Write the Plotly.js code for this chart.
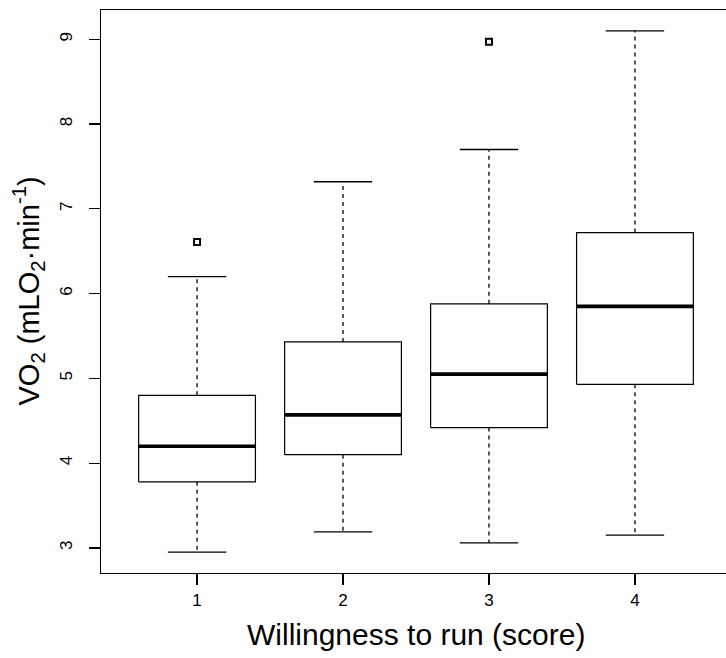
<!DOCTYPE html>
<html>
<head>
<meta charset="utf-8">
<script src="https://cdn.plot.ly/plotly-3.0.1.min.js"></script>
<style>
html,body{margin:0;padding:0;overflow:hidden;background:#fff;width:726px;height:658px;}
#chart{width:760px;height:658px;}
</style>
</head>
<body>
<div id="chart"></div>
<script>
// Data
var groups = [1, 2, 3, 4];
var groupLabels = ["1", "2", "3", "4"];
var lowerWhisker = [2.95, 3.19, 3.06, 3.15];
var q1Values = [3.78, 4.10, 4.42, 4.93];
var medianValues = [4.20, 4.57, 5.05, 5.85];
var q3Values = [4.80, 5.43, 5.88, 6.72];
var upperWhisker = [6.20, 7.32, 7.70, 9.10];
var outlierGroups = [1, 3];
var outlierValues = [6.61, 8.97];
var yTicks = [3, 4, 5, 6, 7, 8, 9];

var boxHalf = 0.4, capHalf = 0.2;
var FONT = "Liberation Sans, Arial, Helvetica, sans-serif";

var traces = [];
var bx = [], by = [];
var mx = [], my = [];
var wx = [], wy = [];
var cx = [], cy = [];
for (var i = 0; i < groups.length; i++) {
  var g = groups[i];
  bx.push(g - boxHalf, g + boxHalf, g + boxHalf, g - boxHalf, g - boxHalf, null);
  by.push(q1Values[i], q1Values[i], q3Values[i], q3Values[i], q1Values[i], null);
  mx.push(g - boxHalf, g + boxHalf, null);
  my.push(medianValues[i], medianValues[i], null);
  wx.push(g, g, null, g, g, null);
  wy.push(q3Values[i], upperWhisker[i], null, q1Values[i], lowerWhisker[i], null);
  cx.push(g - capHalf, g + capHalf, null, g - capHalf, g + capHalf, null);
  cy.push(upperWhisker[i], upperWhisker[i], null, lowerWhisker[i], lowerWhisker[i], null);
}
traces.push({x: wx, y: wy, mode: "lines", line: {color: "#000", width: 1.3, dash: "4px,4px"}, hoverinfo: "skip"});
traces.push({x: cx, y: cy, mode: "lines", line: {color: "#000", width: 1.3}, hoverinfo: "skip"});
traces.push({x: bx, y: by, mode: "lines", line: {color: "#000", width: 1.2}, hoverinfo: "skip"});
traces.push({x: mx, y: my, mode: "lines", line: {color: "#000", width: 3.6}, hoverinfo: "skip"});
traces.push({x: outlierGroups, y: outlierValues, mode: "markers",
  marker: {symbol: "square-open", size: 6, color: "#000", line: {color: "#000", width: 2}}, hoverinfo: "skip"});

var layout = {
  width: 760, height: 658,
  margin: {l: 101, r: 29, t: 10, b: 85},
  paper_bgcolor: "#fff", plot_bgcolor: "#fff",
  showlegend: false,
  font: {family: FONT, color: "#000"},
  xaxis: {
    range: [0.342, 4.658], tickvals: groups, ticktext: groupLabels,
    showgrid: false, zeroline: false, showline: true, mirror: true,
    linecolor: "#000", linewidth: 1.2,
    ticks: "outside", ticklen: 11, tickwidth: 1.2, tickcolor: "#000",
    tickfont: {size: 17, family: FONT, color: "#000"}, ticklabelstandoff: 0
  },
  yaxis: {
    range: [2.704, 9.346], tickvals: yTicks, ticktext: yTicks.map(String),
    showgrid: false, zeroline: false, showline: true, mirror: true,
    linecolor: "#000", linewidth: 1.2,
    ticks: "outside", ticklen: 11, tickwidth: 1.2, tickcolor: "#000",
    tickangle: -90,
    tickfont: {size: 17, family: FONT, color: "#000"}, ticklabelstandoff: 10
  },
  annotations: [
    {text: "Willingness to run (score)", xref: "paper", yref: "paper",
     x: (416 - 101) / 630, y: (573 - 634) / 563, xanchor: "center", yanchor: "middle",
     showarrow: false, font: {size: 30, family: FONT, color: "#000"}},
    {text: "VO<sub>2</sub> (mLO<sub>2</sub>\u00b7min<sup>-1</sup>)", xref: "paper", yref: "paper",
     x: (28 - 101) / 630, y: 0.5, xanchor: "center", yanchor: "middle", textangle: -90,
     showarrow: false, font: {size: 29, family: FONT, color: "#000"}}
  ]
};

Plotly.newPlot("chart", traces, layout, {displayModeBar: false, staticPlot: true});
</script>
</body>
</html>
